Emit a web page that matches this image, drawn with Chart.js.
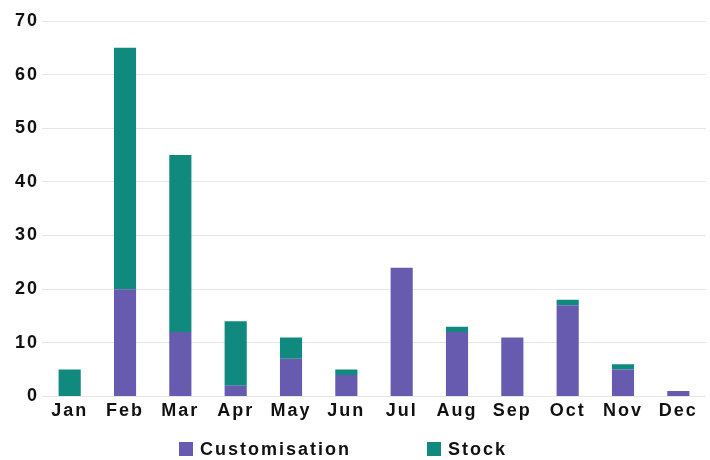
<!DOCTYPE html>
<html>
<head>
<meta charset="utf-8">
<script src="https://cdn.jsdelivr.net/npm/chart.js@4"></script>
<style>
  html, body { margin: 0; padding: 0; background: #fff; }
  #wrap { position: relative; width: 710px; height: 460px; }
  #c { position: absolute; left: 0; top: 0; }
  #legend { position: absolute; left: 179px; top: 439px; display: flex; align-items: center;
    font-family: "Liberation Sans", Arial, sans-serif; font-weight: bold; font-size: 18px;
    letter-spacing: 2px; color: #111; line-height: 20px; }
  .item { display: flex; align-items: center; }
  .item + .item { margin-left: 76px; }
  .box { width: 14px; height: 14px; margin-right: 7px; }
</style>
</head>
<body>
<div id="wrap">
  <canvas id="c" width="710" height="460"></canvas>
  <div id="legend"></div>
</div>
<script>
const categories = ["Jan","Feb","Mar","Apr","May","Jun","Jul","Aug","Sep","Oct","Nov","Dec"];
const seriesNames = ["Customisation", "Stock"];
const customisation = [0, 20, 12, 2, 7, 4, 24, 12, 11, 17, 5, 1];
const stock = [5, 45, 33, 12, 4, 1, 0, 1, 0, 1, 1, 0];
const colors = ["#665BAF", "#10897F"];
const yTicks = [0, 10, 20, 30, 40, 50, 60, 70];

const spacingPlugin = {
  id: 'spacing',
  beforeUpdate(chart) { chart.ctx.letterSpacing = '2px'; },
  beforeLayout(chart) { chart.ctx.letterSpacing = '2px'; },
  beforeDraw(chart) { chart.ctx.letterSpacing = '2px'; }
};

const tickFont = { family: "'Liberation Sans', Arial, sans-serif", size: 18, weight: 'bold' };

const chart = new Chart(document.getElementById('c'), {
  type: 'bar',
  data: {
    labels: categories,
    datasets: [
      { label: seriesNames[0], data: customisation, backgroundColor: colors[0] },
      { label: seriesNames[1], data: stock, backgroundColor: colors[1] }
    ]
  },
  options: {
    responsive: false,
    animation: false,
    datasets: { bar: { categoryPercentage: 0.8, barPercentage: 0.5 } },
    layout: { padding: { top: 21, right: 4, bottom: 34, left: 12 } },
    plugins: { legend: { display: false }, tooltip: { enabled: false } },
    scales: {
      x: {
        stacked: true,
        grid: { display: false, drawTicks: false },
        border: { display: false },
        ticks: { font: tickFont, color: '#111', padding: 4, maxRotation: 0, autoSkip: false }
      },
      y: {
        stacked: true,
        min: 0, max: 70,
        afterBuildTicks(scale) { scale.ticks = yTicks.map(v => ({ value: v })); },
        grid: { color: '#e6e6e6', lineWidth: 1, drawTicks: false },
        border: { display: false },
        ticks: { font: tickFont, color: '#111', padding: 3 }
      }
    }
  },
  plugins: [spacingPlugin]
});

const legend = document.getElementById('legend');
seriesNames.forEach((name, i) => {
  const it = document.createElement('div'); it.className = 'item';
  const b = document.createElement('div'); b.className = 'box'; b.style.background = colors[i];
  const t = document.createElement('span'); t.textContent = name;
  it.appendChild(b); it.appendChild(t); legend.appendChild(it);
});
</script>
</body>
</html>
